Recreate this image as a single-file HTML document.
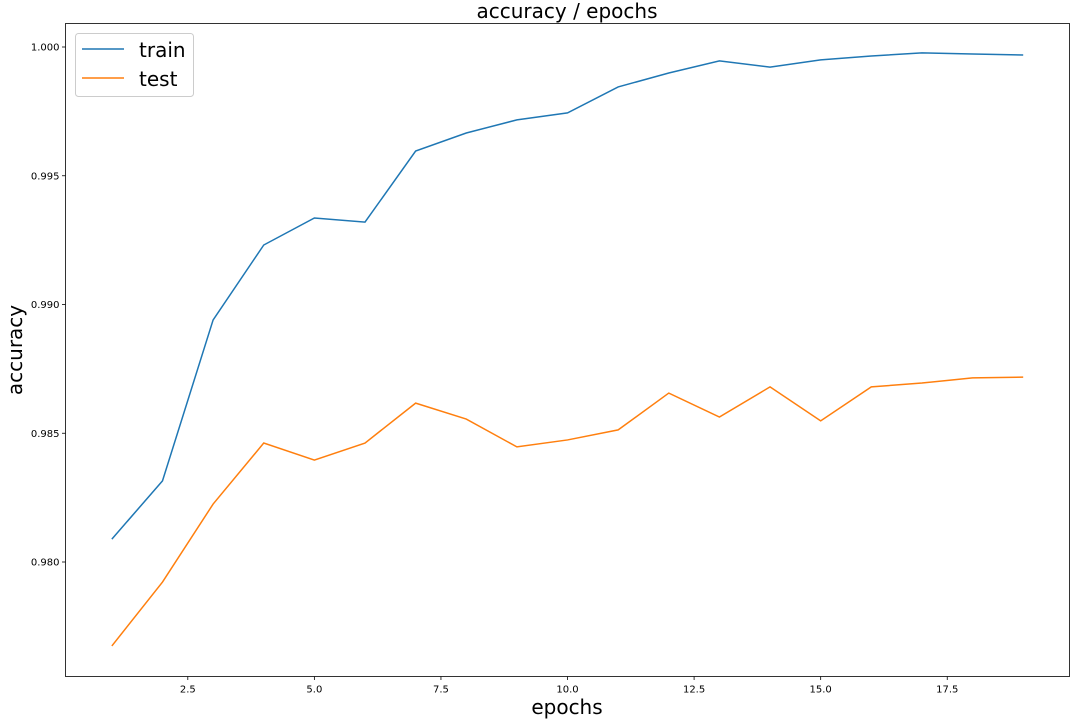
<!DOCTYPE html>
<html><head><meta charset="utf-8"><style>
body{margin:0;background:#fff;}
svg{display:block;font-family:"DejaVu Sans","Liberation Sans",sans-serif;}
</style></head><body>
<svg id="chart" width="1076" height="720">
<g id="grid"></g>
</svg>
<script>
const epochs=[1,2,3,4,5,6,7,8,9,10,11,12,13,14,15,16,17,18,19];
const trainAcc=[0.98089,0.98315,0.98940,0.99231,0.99336,0.99320,0.99596,0.99666,0.99717,0.99744,0.99845,0.99899,0.99946,0.99922,0.99950,0.99965,0.99977,0.99973,0.99969];
const testAcc=[0.97674,0.97922,0.98225,0.98462,0.98396,0.98462,0.98617,0.98555,0.98447,0.98474,0.98513,0.98656,0.98563,0.98680,0.98548,0.98680,0.98695,0.98715,0.98718];
const xTicks=[2.5,5.0,7.5,10.0,12.5,15.0,17.5];
const yTicks=[0.980,0.985,0.990,0.995,1.000];

const NS="http://www.w3.org/2000/svg";
const svg=document.getElementById('chart');
const L=65.5,R=1069.5,T=23.5,B=676.5;
function xs(v){return 187.8+(v-2.5)*50.63;}
function ys(v){return 47+(1-v)*25750;}
function mk(tag,attrs,parent){const e=document.createElementNS(NS,tag);for(const k in attrs)e.setAttribute(k,attrs[k]);(parent||svg).appendChild(e);return e;}

xTicks.forEach(t=>{
  const g=mk('g',{});
  
  
  mk('line',{x1:xs(t),x2:xs(t),y1:B,y2:B+3.5,stroke:'#000','stroke-width':0.8},g);
  const tx=mk('text',{x:xs(t),y:B+16,'font-size':10,'text-anchor':'middle',fill:'#000'},g);
  tx.textContent=t.toFixed(1);
});
yTicks.forEach(t=>{
  const g=mk('g',{});
  
  
  mk('line',{x1:L-3.5,x2:L,y1:ys(t),y2:ys(t),stroke:'#000','stroke-width':0.8},g);
  const tx=mk('text',{x:L-6,y:ys(t)+3.5,'font-size':10,'text-anchor':'end',fill:'#000'},g);
  tx.textContent=t.toFixed(3);
});
function line(vals,color,name){
  const p=mk('polyline',{points:epochs.map((e,i)=>xs(e)+','+ys(vals[i])).join(' '),fill:'none',stroke:color,'stroke-width':1.5});
  
  
}
line(trainAcc,'#1f77b4','train-line');
line(testAcc,'#ff7f0e','test-line');
const frame=mk('rect',{x:L,y:T,width:R-L,height:B-T,fill:'none',stroke:'#000','stroke-width':0.8});


</script>
<svg style="position:absolute;left:0;top:0" width="1076" height="720">
<text x="567" y="18" font-size="20" text-anchor="middle">accuracy / epochs</text>
<text x="567" y="714" font-size="20" text-anchor="middle">epochs</text>
<text transform="translate(22,350) rotate(-90)" font-size="20" text-anchor="middle">accuracy</text>
<g>
<rect x="75.5" y="33.5" width="118" height="63" rx="3" fill="#fff" fill-opacity="0.8" stroke="#ccc" stroke-width="1"/>
<g>
<line x1="82" x2="124" y1="49" y2="49" stroke="#1f77b4" stroke-width="1.5"/>
<text x="139" y="57" font-size="20">train</text></g>
<g>
<line x1="82" x2="124" y1="78" y2="78" stroke="#ff7f0e" stroke-width="1.5"/>
<text x="139" y="86" font-size="20">test</text></g>
</g>
</svg>
</body></html>
